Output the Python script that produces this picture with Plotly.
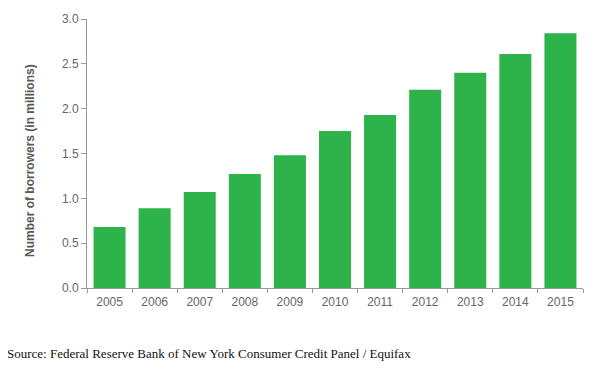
import plotly.graph_objects as go

years = ["2005", "2006", "2007", "2008", "2009", "2010", "2011", "2012", "2013", "2014", "2015"]
borrowers = [0.68, 0.89, 1.07, 1.27, 1.48, 1.75, 1.93, 2.21, 2.40, 2.61, 2.84]
y_ticks = [0.0, 0.5, 1.0, 1.5, 2.0, 2.5, 3.0]

fig = go.Figure(go.Bar(x=years, y=borrowers, marker=dict(color="#2db34a", line=dict(width=0)), width=0.71))

# page body adds an 8px margin, so the figure is sized 8px smaller
fig.update_layout(
    width=586, height=361,
    margin=dict(l=79, r=11, t=11, b=81, autoexpand=False),
    plot_bgcolor="white", paper_bgcolor="white",
    showlegend=False,
    font=dict(family="Arial, Liberation Sans", color="#666666", size=12),
)
fig.update_xaxes(
    automargin=False,
    showline=True, linecolor="#999999", linewidth=1,
    ticks="outside", tickson="boundaries", ticklen=4, tickcolor="#999999",
    ticklabelstandoff=3,
    showgrid=False, tickfont=dict(size=12, color="#666666"),
)
fig.update_yaxes(
    automargin=False,
    range=[0, 3], tickvals=y_ticks, ticktext=[f"{v:.1f}" for v in y_ticks],
    showline=True, linecolor="#999999", linewidth=1,
    ticks="outside", ticklen=5, tickcolor="#999999",
    showgrid=False, zeroline=False, tickfont=dict(size=12, color="#666666"),
)
fig.add_annotation(
    text="<b>Number of borrowers (in millions)</b>",
    xref="paper", yref="paper", x=-57/496, y=0.472, xanchor="center", yanchor="middle",
    textangle=-90, showarrow=False, font=dict(family="Arial, Liberation Sans", size=12, color="#595959"),
)
fig.add_annotation(
    text="Source: Federal Reserve Bank of New York Consumer Credit Panel / Equifax",
    xref="paper", yref="paper", x=-82/496, y=-65/269, xanchor="left", yanchor="middle",
    showarrow=False, font=dict(family="Liberation Serif, DejaVu Serif", size=13, color="#111111"),
)
fig.write_html("out.html")
